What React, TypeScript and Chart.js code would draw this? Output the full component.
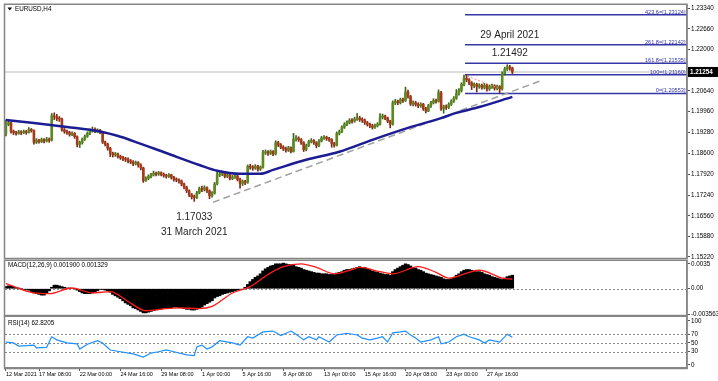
import React, { useEffect, useRef } from 'react';
import { Chart, registerables } from 'chart.js';

Chart.register(...registerables);

// ================= DATA =================
const symbolTitle = 'EURUSD,H4';
const macdTitle = 'MACD(12,26,9) 0.001900 0.001329';
const rsiTitle = 'RSI(14) 62.8205';

// H4 candles, bar index of the first one
const firstIndex = 7;
const firstOpen = 1.1923;
const closes = [
  1.1955, 1.1960, 1.1932, 1.1928, 1.1925, 1.1930, 1.1927, 1.1931, 1.1928, 1.1938,
  1.1934, 1.1896, 1.1903, 1.1898, 1.1905, 1.1900, 1.1906, 1.1903, 1.1982, 1.1979,
  1.1974, 1.1972, 1.1937, 1.1931, 1.1928, 1.1922, 1.1925, 1.1914, 1.1889, 1.1895,
  1.1905, 1.1915, 1.1925, 1.1934, 1.1938, 1.1932, 1.1935, 1.1929, 1.1897, 1.1890,
  1.1876, 1.1860, 1.1855, 1.1858, 1.1850, 1.1846, 1.1842, 1.1840, 1.1835, 1.1832,
  1.1826, 1.1830, 1.1822, 1.1812, 1.1771, 1.1778, 1.1785, 1.1790, 1.1795, 1.1792,
  1.1797, 1.1792, 1.1788, 1.1785, 1.1790, 1.1782, 1.1775, 1.1773, 1.1770, 1.1760,
  1.1750, 1.1738, 1.1725, 1.1718, 1.1716, 1.1731, 1.1745, 1.1741, 1.1748, 1.1738,
  1.1722, 1.1730, 1.1760, 1.1790, 1.1792, 1.1795, 1.1785, 1.1790, 1.1778, 1.1782,
  1.1786, 1.1775, 1.1762, 1.1768, 1.1765, 1.1818, 1.1815, 1.1812, 1.1818, 1.1808,
  1.1815, 1.1862, 1.1865, 1.1860, 1.1866, 1.1858, 1.1895, 1.1888, 1.1880, 1.1875,
  1.1870, 1.1878, 1.1866, 1.1906, 1.1910, 1.1905, 1.1895, 1.1872, 1.1885, 1.1898,
  1.1902, 1.1895, 1.1885, 1.1900, 1.1910, 1.1912, 1.1908, 1.1905, 1.1892, 1.1886,
  1.1925, 1.1930, 1.1945, 1.1955, 1.1960, 1.1968, 1.1965, 1.1972, 1.1975, 1.1970,
  1.1968, 1.1960, 1.1955, 1.1950, 1.1945, 1.1950, 1.1955, 1.1978, 1.1982, 1.1975,
  1.1965, 1.1955, 1.2025, 1.2030, 1.2025, 1.2035, 1.2032, 1.2060, 1.2045, 1.2021,
  1.2025, 1.2020, 1.2015, 1.2020, 1.2005, 1.1998, 1.2015, 1.2025, 1.2032, 1.2030,
  1.2058, 1.2005, 1.2012, 1.2010, 1.2020, 1.2030, 1.2040, 1.2055, 1.2065, 1.2085,
  1.2105, 1.2100, 1.2090, 1.2080, 1.2085, 1.2078, 1.2082, 1.2075, 1.2082, 1.2070,
  1.2078, 1.2080, 1.2072, 1.2078, 1.2070, 1.2120, 1.2135, 1.2142, 1.2138, 1.21254,
];
const highs = [
  1.1969, 1.1966, 1.1962, 1.1936, 1.1932, 1.1935, 1.1934, 1.1936, 1.1935, 1.1944,
  1.1941, 1.1937, 1.1908, 1.1906, 1.1910, 1.1908, 1.1912, 1.1910, 1.1990, 1.1992,
  1.1987, 1.1980, 1.1975, 1.1941, 1.1936, 1.1932, 1.1930, 1.1928, 1.1917, 1.1900,
  1.1910, 1.1920, 1.1930, 1.1939, 1.1946, 1.1943, 1.1940, 1.1938, 1.1932, 1.1900,
  1.1893, 1.1880, 1.1864, 1.1863, 1.1861, 1.1854, 1.1850, 1.1847, 1.1845, 1.1840,
  1.1836, 1.1835, 1.1833, 1.1826, 1.1815, 1.1783, 1.1790, 1.1795, 1.1802, 1.1799,
  1.1801, 1.1800, 1.1796, 1.1792, 1.1794, 1.1792, 1.1785, 1.1780, 1.1777, 1.1773,
  1.1763, 1.1753, 1.1741, 1.1729, 1.1724, 1.1736, 1.1750, 1.1753, 1.1754, 1.1751,
  1.1741, 1.1735, 1.1765, 1.1800, 1.1799, 1.1802, 1.1798, 1.1795, 1.1793, 1.1788,
  1.1791, 1.1789, 1.1779, 1.1773, 1.1772, 1.1822, 1.1824, 1.1820, 1.1823, 1.1821,
  1.1819, 1.1870, 1.1871, 1.1869, 1.1871, 1.1869, 1.1901, 1.1899, 1.1892, 1.1885,
  1.1880, 1.1883, 1.1881, 1.1925, 1.1918, 1.1914, 1.1908, 1.1898, 1.1890, 1.1903,
  1.1908, 1.1905, 1.1898, 1.1905, 1.1915, 1.1918, 1.1916, 1.1912, 1.1908, 1.1896,
  1.1930, 1.1936, 1.1950, 1.1960, 1.1966, 1.1973, 1.1973, 1.1978, 1.1990, 1.1981,
  1.1976, 1.1972, 1.1964, 1.1959, 1.1955, 1.1955, 1.1960, 1.1990, 1.1988, 1.1985,
  1.1978, 1.1968, 1.2031, 1.2036, 1.2034, 1.2040, 1.2040, 1.2076, 1.2066, 1.2049,
  1.2031, 1.2030, 1.2025, 1.2025, 1.2023, 1.2010, 1.2020, 1.2030, 1.2038, 1.2037,
  1.2067, 1.2062, 1.2017, 1.2018, 1.2025, 1.2035, 1.2045, 1.2068, 1.2071, 1.2090,
  1.2115, 1.2117, 1.2104, 1.2094, 1.2090, 1.2089, 1.2087, 1.2086, 1.2088, 1.2085,
  1.2083, 1.2086, 1.2084, 1.2083, 1.2081, 1.2126, 1.2141, 1.21492, 1.2147, 1.2141,
];
const lows = [
  1.1917, 1.1950, 1.1926, 1.1921, 1.1919, 1.1922, 1.1921, 1.1924, 1.1922, 1.1926,
  1.1929, 1.1890, 1.1892, 1.1893, 1.1895, 1.1894, 1.1897, 1.1896, 1.1900, 1.1970,
  1.1966, 1.1964, 1.1932, 1.1925, 1.1922, 1.1916, 1.1918, 1.1909, 1.1881, 1.1879,
  1.1890, 1.1902, 1.1912, 1.1921, 1.1929, 1.1927, 1.1928, 1.1924, 1.1892, 1.1884,
  1.1870, 1.1849, 1.1848, 1.1850, 1.1844, 1.1840, 1.1836, 1.1833, 1.1829, 1.1826,
  1.1820, 1.1822, 1.1815, 1.1806, 1.1765, 1.1768, 1.1774, 1.1780, 1.1786, 1.1786,
  1.1788, 1.1786, 1.1782, 1.1779, 1.1781, 1.1776, 1.1769, 1.1767, 1.1763, 1.1754,
  1.1744, 1.1732, 1.1719, 1.1711, 1.17033, 1.1712, 1.1728, 1.1735, 1.1737, 1.1732,
  1.1712, 1.1717, 1.1727, 1.1757, 1.1784, 1.1787, 1.1780, 1.1781, 1.1773, 1.1774,
  1.1778, 1.1770, 1.1746, 1.1755, 1.1758, 1.1762, 1.1808, 1.1805, 1.1808, 1.1802,
  1.1804, 1.1812, 1.1856, 1.1853, 1.1856, 1.1852, 1.1855, 1.1882, 1.1875, 1.1869,
  1.1864, 1.1866, 1.1861, 1.1864, 1.1900, 1.1899, 1.1889, 1.1866, 1.1868, 1.1882,
  1.1894, 1.1889, 1.1878, 1.1882, 1.1897, 1.1905, 1.1902, 1.1899, 1.1880, 1.1880,
  1.1884, 1.1920, 1.1927, 1.1941, 1.1950, 1.1956, 1.1958, 1.1961, 1.1967, 1.1964,
  1.1961, 1.1954, 1.1949, 1.1944, 1.1939, 1.1941, 1.1946, 1.1952, 1.1972, 1.1970,
  1.1960, 1.1943, 1.1952, 1.2019, 1.2019, 1.2021, 1.2026, 1.2029, 1.2040, 1.2016,
  1.2015, 1.2014, 1.2009, 1.2010, 1.2000, 1.1992, 1.1996, 1.2010, 1.2021, 1.2024,
  1.2027, 1.2000, 1.1991, 1.2003, 1.2006, 1.2016, 1.2026, 1.2036, 1.2050, 1.2060,
  1.2080, 1.2094, 1.2084, 1.2068, 1.2074, 1.2060, 1.2072, 1.2069, 1.2070, 1.2063,
  1.2065, 1.2072, 1.2066, 1.2067, 1.2058, 1.2066, 1.2115, 1.2130, 1.2131, 1.2120,
];

// moving average (sampled at bar indices)
const maIdx = [7, 18, 31, 44, 52, 57, 70, 83, 90, 99, 107, 112, 125, 138, 151, 165, 178, 184, 193, 206];
const maVal = [1.1969, 1.1959, 1.1946, 1.1931, 1.1914, 1.1900, 1.1861, 1.1822, 1.1803, 1.1793,
  1.1793, 1.1806, 1.1839, 1.1865, 1.1904, 1.1943, 1.1975, 1.1992, 1.2011, 1.2044];

// price axis
const priceTicks = [1.2334, 1.2266, 1.2200, 1.2064, 1.1996, 1.1928, 1.1860, 1.1792, 1.1724, 1.1656, 1.1588, 1.1522];
const lastPrice = 1.21254;

// Fibonacci levels
const fibNames = ['423.6', '261.8', '161.8', '100', '0'];
const fibLevels = [1.23124, 1.22142, 1.21535, 1.2116, 1.20553];
const fibAnchorIdx = 187.4;

// trend lines
const trendIdx = [88.4, 216.9];
const trendPrice = [1.17003, 1.2096];
const redTrendIdx = [188.2, 200.4];
const redTrendPrice = [1.21123, 1.2073];

// extremes
const lowIdx = 81;
const lowPrice = 1.17033;
const lowDate = '31 March 2021';
const highIdx = 204;
const highPrice = 1.21492;
const highDate = '29 April 2021';

// MACD
const macdHist = [
  0.0003, 0.0004, 0.0004, 0.0003, 0.0002, 0.0001, 0, -0.0001, -0.0001, -0.0002,
  -0.0004, -0.0006, -0.0007, -0.0008, -0.0009, -0.0009, -0.0007, -0.0003, 0.0002, 0.0005,
  0.0005, 0.0004, 0.0003, 0.0002, 0.0001, 0.0001, 0, 0, -0.0002, -0.0004,
  -0.0006, -0.0007, -0.0007, -0.0007, -0.0006, -0.0005, -0.0003, -0.0001, -0.0001, -0.0002,
  -0.0003, -0.0005, -0.0008, -0.001, -0.0012, -0.0014, -0.0017, -0.002, -0.0022, -0.0024,
  -0.0027, -0.0028, -0.003, -0.0032, -0.0034, -0.0034, -0.0033, -0.0032, -0.0031, -0.003,
  -0.0029, -0.0029, -0.0028, -0.0028, -0.0027, -0.0027, -0.0026, -0.0026, -0.0027, -0.0027,
  -0.0028, -0.0029, -0.0029, -0.003, -0.003, -0.0029, -0.0028, -0.0026, -0.0023, -0.0021,
  -0.0019, -0.0017, -0.0013, -0.0011, -0.001, -0.0008, -0.0007, -0.0006, -0.0005, -0.0004,
  -0.0003, -0.0002, -0.0001, -0.0001, 0.0002, 0.0006, 0.001, 0.0013, 0.0016, 0.0018,
  0.0021, 0.0025, 0.0028, 0.003, 0.0032, 0.0033, 0.0035, 0.0035, 0.0035, 0.0036,
  0.0035, 0.0034, 0.0034, 0.0033, 0.0031, 0.003, 0.0029, 0.0027, 0.0026, 0.0025,
  0.0024, 0.0023, 0.0022, 0.0022, 0.0021, 0.0021, 0.0021, 0.002, 0.002, 0.002,
  0.0022, 0.0023, 0.0024, 0.0026, 0.0027, 0.0027, 0.0028, 0.0029, 0.003, 0.0031,
  0.003, 0.003, 0.0028, 0.0027, 0.0025, 0.0024, 0.0023, 0.0022, 0.0021, 0.002,
  0.002, 0.0019, 0.0024, 0.0027, 0.0029, 0.0031, 0.0033, 0.0035, 0.0034, 0.0032,
  0.003, 0.0029, 0.0027, 0.0026, 0.0024, 0.0022, 0.0021, 0.002, 0.0019, 0.0018,
  0.0017, 0.0016, 0.0014, 0.0013, 0.0013, 0.0014, 0.0016, 0.0019, 0.0021, 0.0024,
  0.0026, 0.0027, 0.0027, 0.0026, 0.0025, 0.0024, 0.0024, 0.0023, 0.0021, 0.002,
  0.0019, 0.0017, 0.0016, 0.0015, 0.0014, 0.0013, 0.0015, 0.0017, 0.0018, 0.0019,
];
const signalIdx = [7, 18, 24, 33, 41, 48, 55, 62, 70, 75, 83, 88, 96, 103, 110, 116, 123, 129, 136, 143,
  146, 154, 159, 169, 176, 181, 189, 193, 202, 206];
const signalVal = [0.0007, -0.0006, -0.0007, 0.0001, -0.0006, -0.0004, -0.0018, -0.0031, -0.0028, -0.0027,
  -0.0028, -0.0025, -0.0006, 0.0003, 0.002, 0.0031, 0.0035, 0.003, 0.0021, 0.0027,
  0.003, 0.0024, 0.0021, 0.0031, 0.0023, 0.0015, 0.0023, 0.0026, 0.0015, 0.00133];
const macdTicks = [0.0035, 0, -0.003563];
const macdTickLabels = ['0.0035', '0.00', '-0.003563'];

// RSI
const rsiIdx = [7, 10, 12, 18, 19, 23, 25, 27, 31, 35, 36, 39, 43, 45, 48, 52, 57, 61, 64, 67,
  70, 73, 78, 81, 82, 84, 86, 88, 91, 96, 99, 102, 104, 108, 112, 115, 119, 121, 124, 126,
  129, 130, 134, 137, 141, 145, 147, 150, 153, 155, 157, 159, 162, 164, 166, 168, 170, 174, 177, 178,
  181, 184, 187, 189, 193, 195, 197, 201, 204, 206];
const rsiVal = [52, 50, 43, 45, 39, 40, 64, 57, 50, 48, 36, 47, 55, 50, 34, 30, 25, 18, 27, 30,
  34, 30, 23, 21, 41, 45, 36, 41, 55, 50, 45, 64, 61, 75, 77, 67, 77, 70, 57, 64,
  57, 64, 52, 68, 72, 68, 61, 57, 61, 64, 52, 73, 75, 77, 68, 61, 52, 57, 64, 48,
  52, 64, 70, 64, 57, 50, 57, 52, 70, 62.82];
const rsiTicks = [100, 70, 50, 30, 0];
const rsiLevels = [70, 50, 30];

// time axis
const timeTickIdx = [7, 20, 36, 52, 68, 84, 100, 116, 132, 148, 164, 180, 196];
const timeTickLabels = ['12 Mar 2021', '17 Mar 08:00', '22 Mar 00:00', '24 Mar 16:00', '29 Mar 08:00',
  '1 Apr 00:00', '5 Apr 16:00', '8 Apr 08:00', '13 Apr 00:00', '15 Apr 16:00', '20 Apr 08:00',
  '23 Apr 00:00', '27 Apr 16:00'];

// ================= LAYOUT / STYLE =================
const W = 718;
const H = 381;
const PLOT_LEFT = 5;
const AXIS_W = 31;
const MAIN_TOP = 5;
const MAIN_BOTTOM = 258;
const MACD_TOP = 261;
const MACD_BOTTOM = 315;
const RSI_TOP = 317;
const RSI_BOTTOM = 368;
const X_MIN = 6.64;
const X_MAX = 274.62;
const PRICE_MIN = 1.15186;
const PRICE_MAX = 1.23438;
const MACD_MIN = -0.0037;
const MACD_MAX = 0.0039;
const RSI_MIN = -7;
const RSI_MAX = 109;

const FONT = '"Liberation Sans", Arial, sans-serif';
const SMALL = 6.3;
const XSMALL = 5.5;
const FRAME = '#858585';
const BULL = '#5b8a23';
const BEAR = '#a83a1c';
const BULL_WICK = '#3f6216';
const BEAR_WICK = '#7a2812';
const MA_COLOR = '#1c1c94';
const FIB_COLOR = '#3636a8';

const ANNOTATIONS = [
  { which: 'low', kind: 'price', dx: 0, dy: 16 },
  { which: 'low', kind: 'date', dx: 0, dy: 31 },
  { which: 'high', kind: 'price', dx: 2.5, dy: -11.7 },
  { which: 'high', kind: 'date', dx: 2.5, dy: -29.7 },
];

function yAxis(min: number, max: number, ticks: number[], fmt: (v: number, i: number) => string) {
  return {
    type: 'linear',
    position: 'right',
    min,
    max,
    afterFit: (s: any) => { s.width = AXIS_W; },
    afterBuildTicks: (s: any) => { s.ticks = ticks.map((v) => ({ value: v })); },
    ticks: { callback: (v: any, i: number) => fmt(v, i), font: { family: FONT, size: SMALL }, color: '#000', padding: 1, autoSkip: false },
    grid: { display: true, drawOnChartArea: false, drawTicks: true, tickLength: 3, color: '#555', lineWidth: 1 },
    border: { display: true, color: FRAME, width: 1.5 },
  };
}

function hiddenX() {
  return { type: 'linear', min: X_MIN, max: X_MAX, offset: false, display: false };
}

function drawFrame(ctx: CanvasRenderingContext2D, a: any) {
  ctx.strokeStyle = FRAME;
  ctx.lineWidth = 1.5;
  ctx.strokeRect(a.left - 0.5, a.top - 0.75, a.right - a.left + 0.5, a.bottom - a.top + 1.25);
}

function dottedLevels(chart: any, levels: number[]) {
  const { ctx, chartArea: a, scales } = chart;
  ctx.save();
  ctx.strokeStyle = '#8a8a8a';
  ctx.lineWidth = 1;
  ctx.setLineDash([2, 2]);
  levels.forEach((lv) => {
    const y = Math.round(scales.y.getPixelForValue(lv)) + 0.5;
    ctx.beginPath();
    ctx.moveTo(a.left, y);
    ctx.lineTo(a.right, y);
    ctx.stroke();
  });
  ctx.restore();
}

export default function App() {
  const mainRef = useRef<HTMLCanvasElement>(null);
  const macdRef = useRef<HTMLCanvasElement>(null);
  const rsiRef = useRef<HTMLCanvasElement>(null);

  useEffect(() => {
    Chart.defaults.font.family = FONT;
    const idx = closes.map((_, k) => firstIndex + k);
    const opens = closes.map((_, k) => (k === 0 ? firstOpen : closes[k - 1]));
    const isUp = closes.map((c, k) => c >= opens[k]);

    // ---------- main price chart ----------
    const mainDecor = {
      id: 'mainDecor',
      afterDraw(chart: any) {
        const { ctx, chartArea: a, scales } = chart;
        const xs = scales.x;
        const ys = scales.y;
        ctx.save();
        drawFrame(ctx, a);
        // title
        ctx.fillStyle = '#000';
        ctx.beginPath();
        ctx.moveTo(a.left + 2.5, a.top + 2.5);
        ctx.lineTo(a.left + 7, a.top + 2.5);
        ctx.lineTo(a.left + 4.75, a.top + 5.5);
        ctx.closePath();
        ctx.fill();
        ctx.font = `${SMALL}px ${FONT}`;
        ctx.textBaseline = 'middle';
        ctx.textAlign = 'left';
        ctx.fillText(symbolTitle, a.left + 10, a.top + 4);
        // fib labels
        ctx.font = `5.6px ${FONT}`;
        ctx.fillStyle = FIB_COLOR;
        ctx.textAlign = 'right';
        ctx.textBaseline = 'alphabetic';
        fibLevels.forEach((lv, k) => {
          const y = ys.getPixelForValue(lv);
          ctx.fillText(`${fibNames[k]}=[${lv.toFixed(5)}]`, a.right - 1.5, y - 1);
        });
        // annotations
        ctx.font = `10px ${FONT}`;
        ctx.fillStyle = '#1e1e1e';
        ctx.textAlign = 'center';
        ctx.textBaseline = 'middle';
        ANNOTATIONS.forEach((an) => {
          const i = an.which === 'low' ? lowIdx : highIdx;
          const p = an.which === 'low' ? lowPrice : highPrice;
          const txt = an.kind === 'price' ? p.toFixed(5) : (an.which === 'low' ? lowDate : highDate);
          ctx.fillText(txt, xs.getPixelForValue(i) + an.dx, ys.getPixelForValue(p) + an.dy);
        });
        // last price box
        const yp = ys.getPixelForValue(lastPrice);
        ctx.fillStyle = '#000';
        ctx.fillRect(a.right + 1, yp - 5, W - a.right - 1, 10);
        ctx.fillStyle = '#fff';
        ctx.font = `bold ${SMALL}px ${FONT}`;
        ctx.textAlign = 'left';
        ctx.textBaseline = 'middle';
        ctx.fillText(lastPrice.toFixed(5), a.right + 3, yp + 0.5);
        ctx.restore();
      },
    };

    const fibSets = fibLevels.map((lv) => ({
      type: 'line',
      data: [{ x: fibAnchorIdx, y: lv }, { x: X_MAX, y: lv }],
      borderColor: FIB_COLOR,
      borderWidth: 1.5,
      pointRadius: 0,
      order: 6,
    }));

    const main = new Chart(mainRef.current as HTMLCanvasElement, {
      type: 'bar',
      data: {
        datasets: [
          {
            type: 'line',
            data: maIdx.map((x, k) => ({ x, y: maVal[k] })),
            borderColor: MA_COLOR,
            borderWidth: 2.5,
            pointRadius: 0,
            cubicInterpolationMode: 'monotone',
            order: 1,
          },
          {
            type: 'line',
            data: redTrendIdx.map((x, k) => ({ x, y: redTrendPrice[k] })),
            borderColor: '#f08a8a',
            borderWidth: 1,
            borderDash: [2, 2],
            pointRadius: 0,
            order: 2,
          },
          {
            type: 'bar',
            data: idx.map((x, k) => ({ x, y: [opens[k], closes[k]] })),
            backgroundColor: isUp.map((u) => (u ? BULL : BEAR)),
            barThickness: 2,
            minBarLength: 1,
            grouped: false,
            order: 3,
          },
          {
            type: 'bar',
            data: idx.map((x, k) => ({ x, y: [lows[k], highs[k]] })),
            backgroundColor: isUp.map((u) => (u ? BULL_WICK : BEAR_WICK)),
            barThickness: 1,
            grouped: false,
            order: 4,
          },
          {
            type: 'line',
            data: trendIdx.map((x, k) => ({ x, y: trendPrice[k] })),
            borderColor: '#a0a0a0',
            borderWidth: 1.5,
            borderDash: [7, 4],
            pointRadius: 0,
            order: 5,
          },
          ...fibSets,
          {
            type: 'line',
            data: [{ x: X_MIN, y: lastPrice }, { x: X_MAX, y: lastPrice }],
            borderColor: '#d2d2d2',
            borderWidth: 1.5,
            pointRadius: 0,
            order: 7,
          },
        ] as any,
      },
      options: {
        animation: false,
        responsive: false,
        events: [],
        layout: { padding: { left: PLOT_LEFT, top: MAIN_TOP, right: 0, bottom: H - MAIN_BOTTOM } },
        plugins: { legend: { display: false }, tooltip: { enabled: false } },
        scales: {
          x: hiddenX(),
          y: yAxis(PRICE_MIN, PRICE_MAX, priceTicks, (v) => Number(v).toFixed(5)),
        } as any,
      },
      plugins: [mainDecor],
    } as any);

    // ---------- MACD ----------
    const macdDecor = {
      id: 'macdDecor',
      beforeDatasetsDraw(chart: any) { dottedLevels(chart, [0]); },
      afterDraw(chart: any) {
        const { ctx, chartArea: a } = chart;
        ctx.save();
        drawFrame(ctx, a);
        ctx.fillStyle = '#000';
        ctx.font = `${SMALL}px ${FONT}`;
        ctx.textAlign = 'left';
        ctx.textBaseline = 'middle';
        ctx.fillText(macdTitle, a.left + 3, a.top + 4.5);
        ctx.restore();
      },
    };
    const macd = new Chart(macdRef.current as HTMLCanvasElement, {
      type: 'bar',
      data: {
        datasets: [
          {
            type: 'line',
            data: signalIdx.map((x, k) => ({ x, y: signalVal[k] })),
            borderColor: '#ff1a1a',
            borderWidth: 1.3,
            pointRadius: 0,
            cubicInterpolationMode: 'monotone',
            order: 1,
          },
          {
            type: 'bar',
            data: idx.map((x, k) => ({ x, y: macdHist[k] })),
            backgroundColor: '#000',
            barThickness: 2.7,
            grouped: false,
            order: 2,
          },
        ] as any,
      },
      options: {
        animation: false,
        responsive: false,
        events: [],
        layout: { padding: { left: PLOT_LEFT, top: MACD_TOP, right: 0, bottom: H - MACD_BOTTOM } },
        plugins: { legend: { display: false }, tooltip: { enabled: false } },
        scales: {
          x: hiddenX(),
          y: yAxis(MACD_MIN, MACD_MAX, macdTicks, (_v, i) => macdTickLabels[i]),
        } as any,
      },
      plugins: [macdDecor],
    } as any);

    // ---------- RSI ----------
    const rsiDecor = {
      id: 'rsiDecor',
      beforeDatasetsDraw(chart: any) { dottedLevels(chart, rsiLevels); },
      afterDraw(chart: any) {
        const { ctx, chartArea: a } = chart;
        ctx.save();
        drawFrame(ctx, a);
        ctx.fillStyle = '#000';
        ctx.font = `${SMALL}px ${FONT}`;
        ctx.textAlign = 'left';
        ctx.textBaseline = 'middle';
        ctx.fillText(rsiTitle, a.left + 3, a.top + 6);
        ctx.restore();
      },
    };
    const rsi = new Chart(rsiRef.current as HTMLCanvasElement, {
      type: 'line',
      data: {
        datasets: [
          {
            data: rsiIdx.map((x, k) => ({ x, y: rsiVal[k] })),
            borderColor: '#1e90ff',
            borderWidth: 1.2,
            pointRadius: 0,
            tension: 0,
          },
        ],
      },
      options: {
        animation: false,
        responsive: false,
        events: [],
        layout: { padding: { left: PLOT_LEFT, top: RSI_TOP, right: 0, bottom: 0 } },
        plugins: { legend: { display: false }, tooltip: { enabled: false } },
        scales: {
          x: {
            type: 'linear',
            position: 'bottom',
            min: X_MIN,
            max: X_MAX,
            offset: false,
            afterFit: (s: any) => { s.height = H - RSI_BOTTOM; },
            afterBuildTicks: (s: any) => { s.ticks = timeTickIdx.map((v) => ({ value: v })); },
            ticks: {
              callback: (_v: any, i: number) => timeTickLabels[i],
              align: 'start',
              maxRotation: 0,
              minRotation: 0,
              autoSkip: false,
              padding: 0,
              font: { family: FONT, size: XSMALL },
              color: '#000',
            },
            grid: { display: true, drawOnChartArea: false, drawTicks: true, tickLength: 3, color: '#555' },
            border: { display: true, color: FRAME, width: 1.5 },
          },
          y: yAxis(RSI_MIN, RSI_MAX, rsiTicks, (v) => String(v)),
        } as any,
      },
      plugins: [rsiDecor],
    } as any);

    return () => {
      main.destroy();
      macd.destroy();
      rsi.destroy();
    };
  }, []);

  const cs: React.CSSProperties = { position: 'absolute', left: 0, top: 0, width: W, height: H };
  return (
    <div style={{ position: 'fixed', left: 0, top: 0, width: W, height: H, background: '#fff', overflow: 'hidden' }}>
      <canvas ref={mainRef} width={W} height={H} style={cs} />
      <canvas ref={macdRef} width={W} height={H} style={cs} />
      <canvas ref={rsiRef} width={W} height={H} style={cs} />
    </div>
  );
}
